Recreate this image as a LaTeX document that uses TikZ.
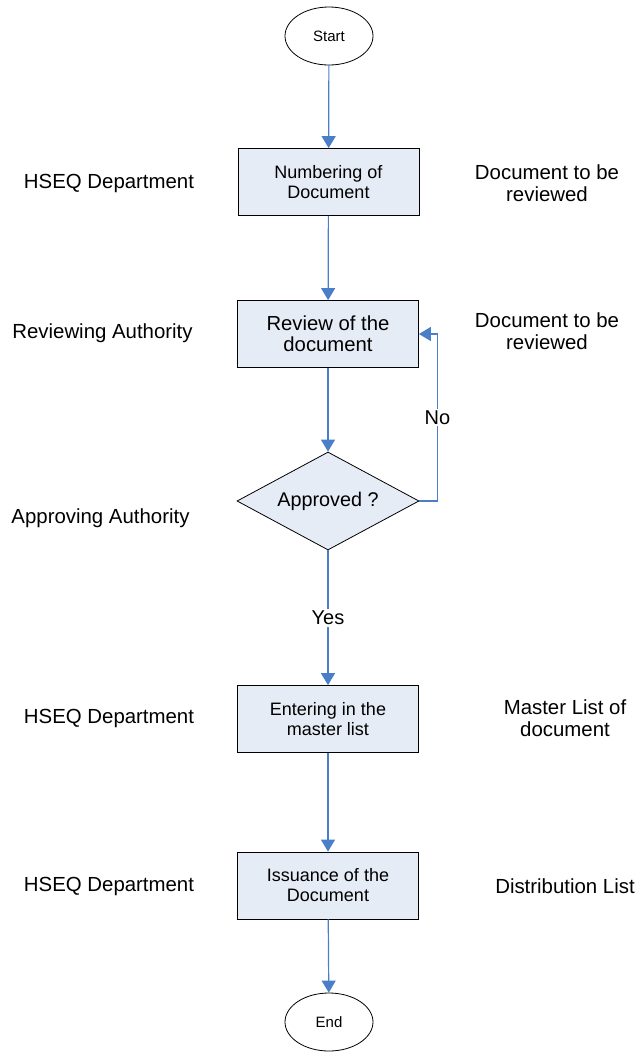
\documentclass[tikz,border=0pt]{standalone}
\usepackage{fontspec}
\setmainfont{Liberation Sans}
\usetikzlibrary{shapes.geometric,arrows.meta}
\definecolor{flowblue}{RGB}{74,126,200}
\definecolor{boxfill}{RGB}{230,236,246}

\begin{document}
\begin{tikzpicture}[x=1pt,y=1pt,
    every node/.append style={inner sep=0pt},
    terminal/.style={draw=black,line width=0.8pt,ellipse,minimum width=88pt,minimum height=58pt,font=\fontsize{15}{18}\selectfont},
    process/.style={draw=black,line width=0.8pt,fill=boxfill,minimum width=181pt,minimum height=67pt,align=center,font=\fontsize{18}{20}\selectfont},
    decision/.style={draw=black,line width=0.8pt,fill=boxfill,diamond,aspect=1.86,minimum width=182pt,minimum height=98pt,font=\fontsize{19.8}{22}\selectfont},
    side/.style={align=center,font=\fontsize{20.4}{22}\selectfont},
    flowlabel/.style={fill=white,inner sep=2pt,font=\fontsize{20}{22}\selectfont},
    flow/.style={draw=flowblue,line width=1.2pt,-{Triangle[width=14pt,length=12pt]}}]
    \useasboundingbox (0,0) rectangle (638,-1053);
    % flow chart
    \node [terminal] (start) at (329,-36) {Start};
    \node [process] (number) at (328.5,-182) {Numbering of\\Document};
    \node [process,font=\fontsize{20.3}{21}\selectfont] (review) at (328,-334) {Review of the\\document};
    \node [decision] (ok) at (328,-501) {Approved ?};
    \node [process] (enter) at (328,-719) {Entering in the\\master list};
    \node [process] (issue) at (328,-885.5) {Issuance of the\\Document};
    \node [terminal] (end) at (329,-1022) {End};
    % who does it
    \node [side] (who1) at (109,-183) {HSEQ Department};
    \node [side] (who2) at (102.5,-333) {Reviewing Authority};
    \node [side] (who3) at (100.5,-518) {Approving Authority};
    \node [side] (who4) at (109,-718) {HSEQ Department};
    \node [side] (who5) at (109,-886) {HSEQ Department};
    % records
    \node [side] (rec1) at (547,-183) {Document to be\\reviewed};
    \node [side] (rec2) at (547,-331) {Document to be\\reviewed};
    \node [side] (rec3) at (565,-718) {Master List of\\document};
    \node [side] (rec4) at (565,-886) {Distribution List};
    % connectors
    \draw [flow] (start) -- (number);
    \draw [flow] (number) -- (review);
    \draw [flow] (review) -- (ok);
    \draw [flow] (ok) -- node [flowlabel] {Yes} (enter);
    \draw [flow] (ok.east) -- ++(18,0) |- node [flowlabel,pos=0.25] {No} (review.east);
    \draw [flow] (enter) -- (issue);
    \draw [flow] (issue) -- (end);
\end{tikzpicture}
\end{document}
